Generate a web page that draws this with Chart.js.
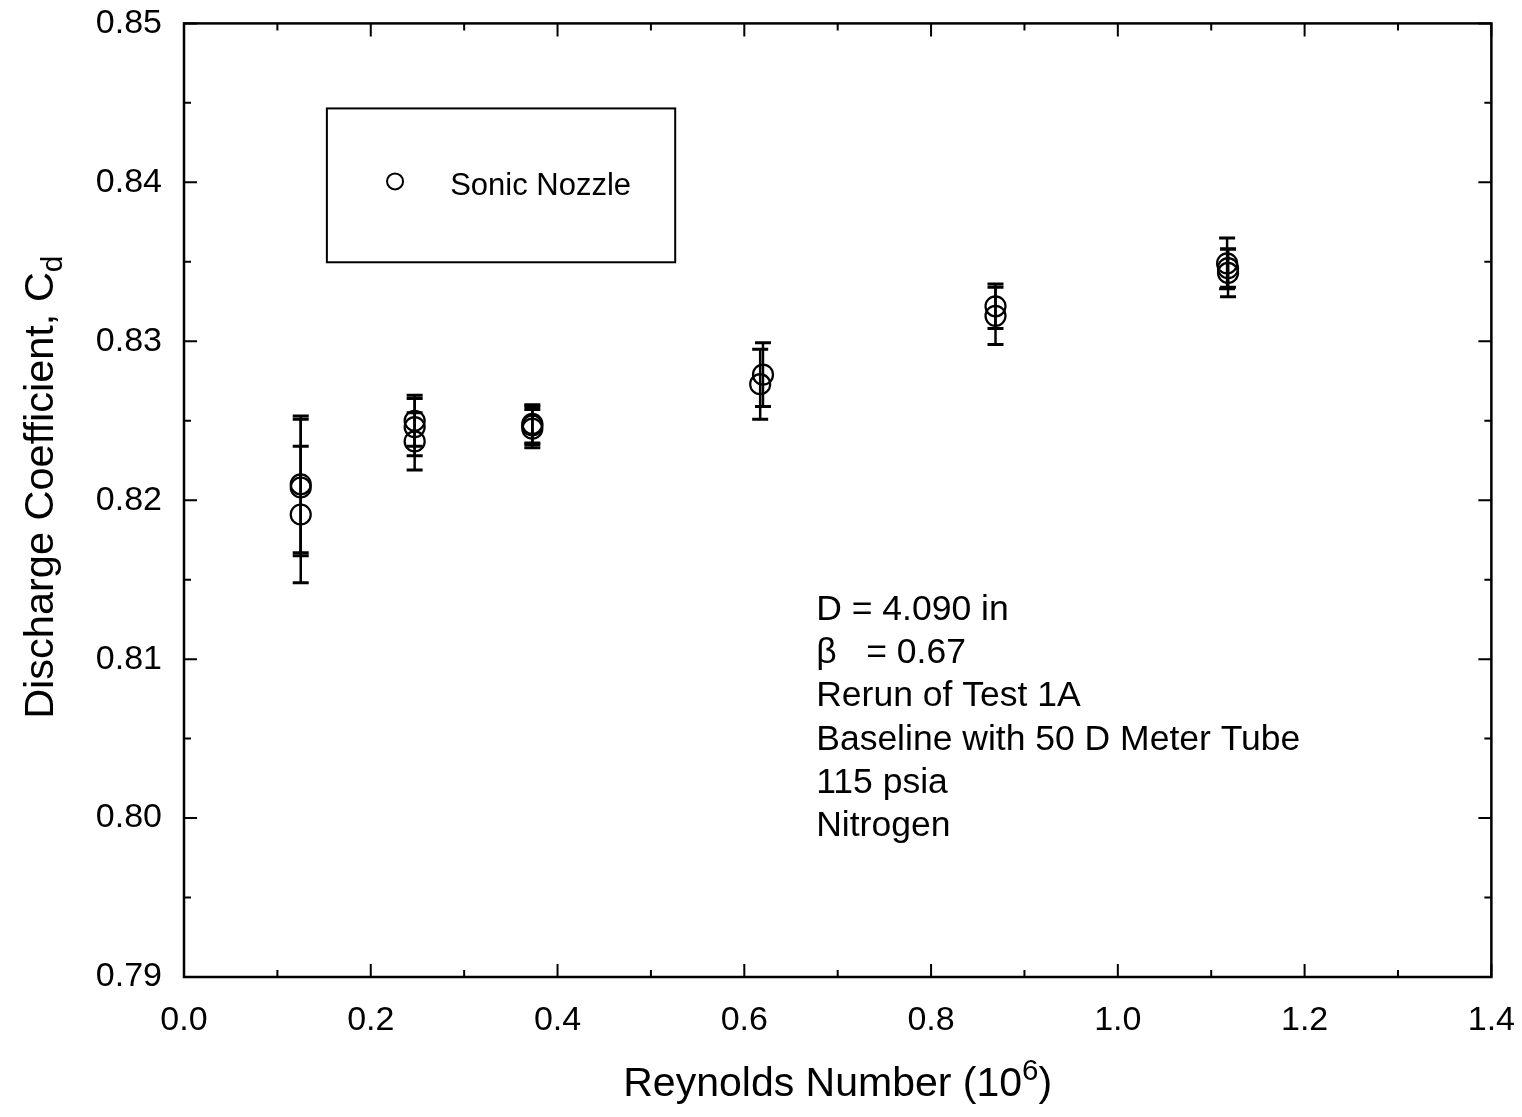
<!DOCTYPE html>
<html lang="en">
<head>
<meta charset="UTF-8">
<title>Discharge Coefficient vs Reynolds Number</title>
<style>
    body { margin: 0; background: #ffffff; overflow: hidden; }
    #wrap { position: absolute; left: 0; top: -11px; width: 1530px; height: 1128px; }
</style>
</head>
<body>
<div id="wrap"><canvas id="chart"></canvas></div>
<script src="https://cdn.jsdelivr.net/npm/chart.js"></script>
<script>
// Reynolds number (x 10^6), discharge coefficient and its uncertainty
const reynolds = [0.125, 0.125, 0.125,
                  0.247, 0.247, 0.247,
                  0.373, 0.373, 0.373,
                  0.620, 0.617,
                  0.869, 0.869,
                  1.117, 1.118, 1.118];
const cd = [0.8210, 0.8208, 0.8191,
            0.8250, 0.8246, 0.8237,
            0.8248, 0.8247, 0.8245,
            0.8279, 0.8273,
            0.8322, 0.8316,
            0.8349, 0.8346, 0.8343];
const cdErr = [0.0043, 0.0043, 0.0043,
               0.0016, 0.0018, 0.0018,
               0.0012, 0.0012, 0.0012,
               0.0020, 0.0022,
               0.0014, 0.0018,
               0.0016, 0.0012, 0.0015];

const xTicks = [0.0, 0.2, 0.4, 0.6, 0.8, 1.0, 1.2, 1.4];
const yTicks = [0.79, 0.80, 0.81, 0.82, 0.83, 0.84, 0.85];
const xMinor = [0.1, 0.3, 0.5, 0.7, 0.9, 1.1, 1.3];
const yMinor = [0.795, 0.805, 0.815, 0.825, 0.835, 0.845];

const seriesName = 'Sonic Nozzle';
const notes = ['D = 4.090 in', 'β   = 0.67', 'Rerun of Test 1A',
               'Baseline with 50 D Meter Tube', '115 psia', 'Nitrogen'];

const FONT = '"Liberation Sans", Arial, Helvetica, sans-serif';

// draws a string made of runs; runs may be raised (sup) or lowered (sub)
function drawRuns(ctx, runs, x, y, size) {
    let total = 0;
    runs.forEach(r => {
        const s = r.shift ? size * 0.72 : size;
        ctx.font = s + 'px ' + FONT;
        r.w = ctx.measureText(r.t).width;
        r.s = s;
        total += r.w;
    });
    let cx = x - total / 2;
    runs.forEach(r => {
        ctx.font = r.s + 'px ' + FONT;
        ctx.fillText(r.t, cx, y + (r.shift || 0) * size);
        cx += r.w;
    });
}

const framePlugin = {
    id: 'frame',
    beforeDatasetsDraw(chart) {
        const ctx = chart.ctx;
        const xs = chart.scales.x, ys = chart.scales.y;
        ctx.save();
        ctx.strokeStyle = '#000';
        // error bars with caps
        reynolds.forEach((xv, i) => {
            const px = xs.getPixelForValue(xv);
            const top = ys.getPixelForValue(cd[i] + cdErr[i]);
            const bot = ys.getPixelForValue(cd[i] - cdErr[i]);
            ctx.lineWidth = 2.5;
            ctx.beginPath();
            ctx.moveTo(px, top);
            ctx.lineTo(px, bot);
            ctx.stroke();
            ctx.lineWidth = 3;
            ctx.beginPath();
            ctx.moveTo(px - 8, top); ctx.lineTo(px + 8, top);
            ctx.moveTo(px - 8, bot); ctx.lineTo(px + 8, bot);
            ctx.stroke();
        });
        ctx.restore();
    },
    afterDraw(chart) {
        const ctx = chart.ctx;
        const a = chart.chartArea;
        const xs = chart.scales.x, ys = chart.scales.y;
        ctx.save();
        ctx.strokeStyle = '#000';
        ctx.fillStyle = '#000';

        // plot frame
        ctx.lineWidth = 2.5;
        ctx.strokeRect(a.left, a.top, a.right - a.left, a.bottom - a.top);

        // inward ticks on all four sides
        ctx.lineWidth = 2;
        ctx.beginPath();
        const xTick = (v, len) => {
            const p = xs.getPixelForValue(v);
            ctx.moveTo(p, a.bottom); ctx.lineTo(p, a.bottom - len);
            ctx.moveTo(p, a.top); ctx.lineTo(p, a.top + len);
        };
        const yTick = (v, len) => {
            const p = ys.getPixelForValue(v);
            ctx.moveTo(a.left, p); ctx.lineTo(a.left + len, p);
            ctx.moveTo(a.right, p); ctx.lineTo(a.right - len, p);
        };
        xTicks.forEach(v => xTick(v, 13));
        xMinor.forEach(v => xTick(v, 7));
        yTicks.forEach(v => yTick(v, 13));
        yMinor.forEach(v => yTick(v, 7));
        ctx.stroke();

        // legend box
        const lx0 = xs.getPixelForValue(0.153), lx1 = xs.getPixelForValue(0.526);
        const ly0 = ys.getPixelForValue(0.84465), ly1 = ys.getPixelForValue(0.83497);
        ctx.lineWidth = 2;
        ctx.strokeRect(lx0, ly0, lx1 - lx0, ly1 - ly0);
        ctx.beginPath();
        ctx.arc(xs.getPixelForValue(0.226), ys.getPixelForValue(0.84006), 8, 0, Math.PI * 2);
        ctx.stroke();
        ctx.font = '31px ' + FONT;
        ctx.textAlign = 'left';
        ctx.textBaseline = 'middle';
        ctx.fillText(seriesName, xs.getPixelForValue(0.285), ys.getPixelForValue(0.83975));

        // test conditions
        ctx.font = '35.5px ' + FONT;
        const nx = xs.getPixelForValue(0.677);
        const ny = ys.getPixelForValue(0.81308);
        notes.forEach((t, i) => ctx.fillText(t, nx, ny + i * 43.2));

        // axis titles
        ctx.textAlign = 'left';
        ctx.textBaseline = 'alphabetic';
        drawRuns(ctx, [{t: 'Reynolds Number (10'}, {t: '6', shift: -0.4}, {t: ')'}],
                 (a.left + a.right) / 2, a.bottom + 119, 41);
        ctx.translate(a.left - 131, (a.top + a.bottom) / 2 - 13);
        ctx.rotate(-Math.PI / 2);
        drawRuns(ctx, [{t: 'Discharge Coefficient, C'}, {t: 'd', shift: 0.22}], 0, 0, 41.5);
        ctx.restore();
    }
};

const points = reynolds.map((x, i) => ({x: x, y: cd[i]}));

new Chart(document.getElementById('chart'), {
    type: 'scatter',
    data: {
        datasets: [{
            label: seriesName,
            data: points,
            pointStyle: 'circle',
            pointRadius: 10,
            pointBorderWidth: 2.2,
            pointBorderColor: '#000',
            pointBackgroundColor: 'rgba(255,255,255,0)'
        }]
    },
    options: {
        responsive: true,
        maintainAspectRatio: false,
        animation: false,
        layout: { padding: 0 },
        plugins: { legend: { display: false }, tooltip: { enabled: false } },
        scales: {
            x: {
                type: 'linear',
                min: 0, max: 1.4,
                grid: { display: false },
                border: { display: false },
                afterBuildTicks: s => { s.ticks = xTicks.map(v => ({value: v})); },
                afterFit: s => { s.height = 140; },
                ticks: {
                    color: '#000',
                    padding: 15,
                    font: { size: 34, family: FONT },
                    callback: v => Number(v).toFixed(1)
                }
            },
            y: {
                type: 'linear',
                min: 0.79, max: 0.85,
                grid: { display: false },
                border: { display: false },
                afterBuildTicks: s => { s.ticks = yTicks.map(v => ({value: v})); },
                afterFit: s => { s.width = 184; },
                ticks: {
                    color: '#000',
                    padding: 14,
                    font: { size: 34, family: FONT },
                    callback: v => Number(v).toFixed(2)
                }
            }
        }
    },
    plugins: [framePlugin]
});
</script>
</body>
</html>
